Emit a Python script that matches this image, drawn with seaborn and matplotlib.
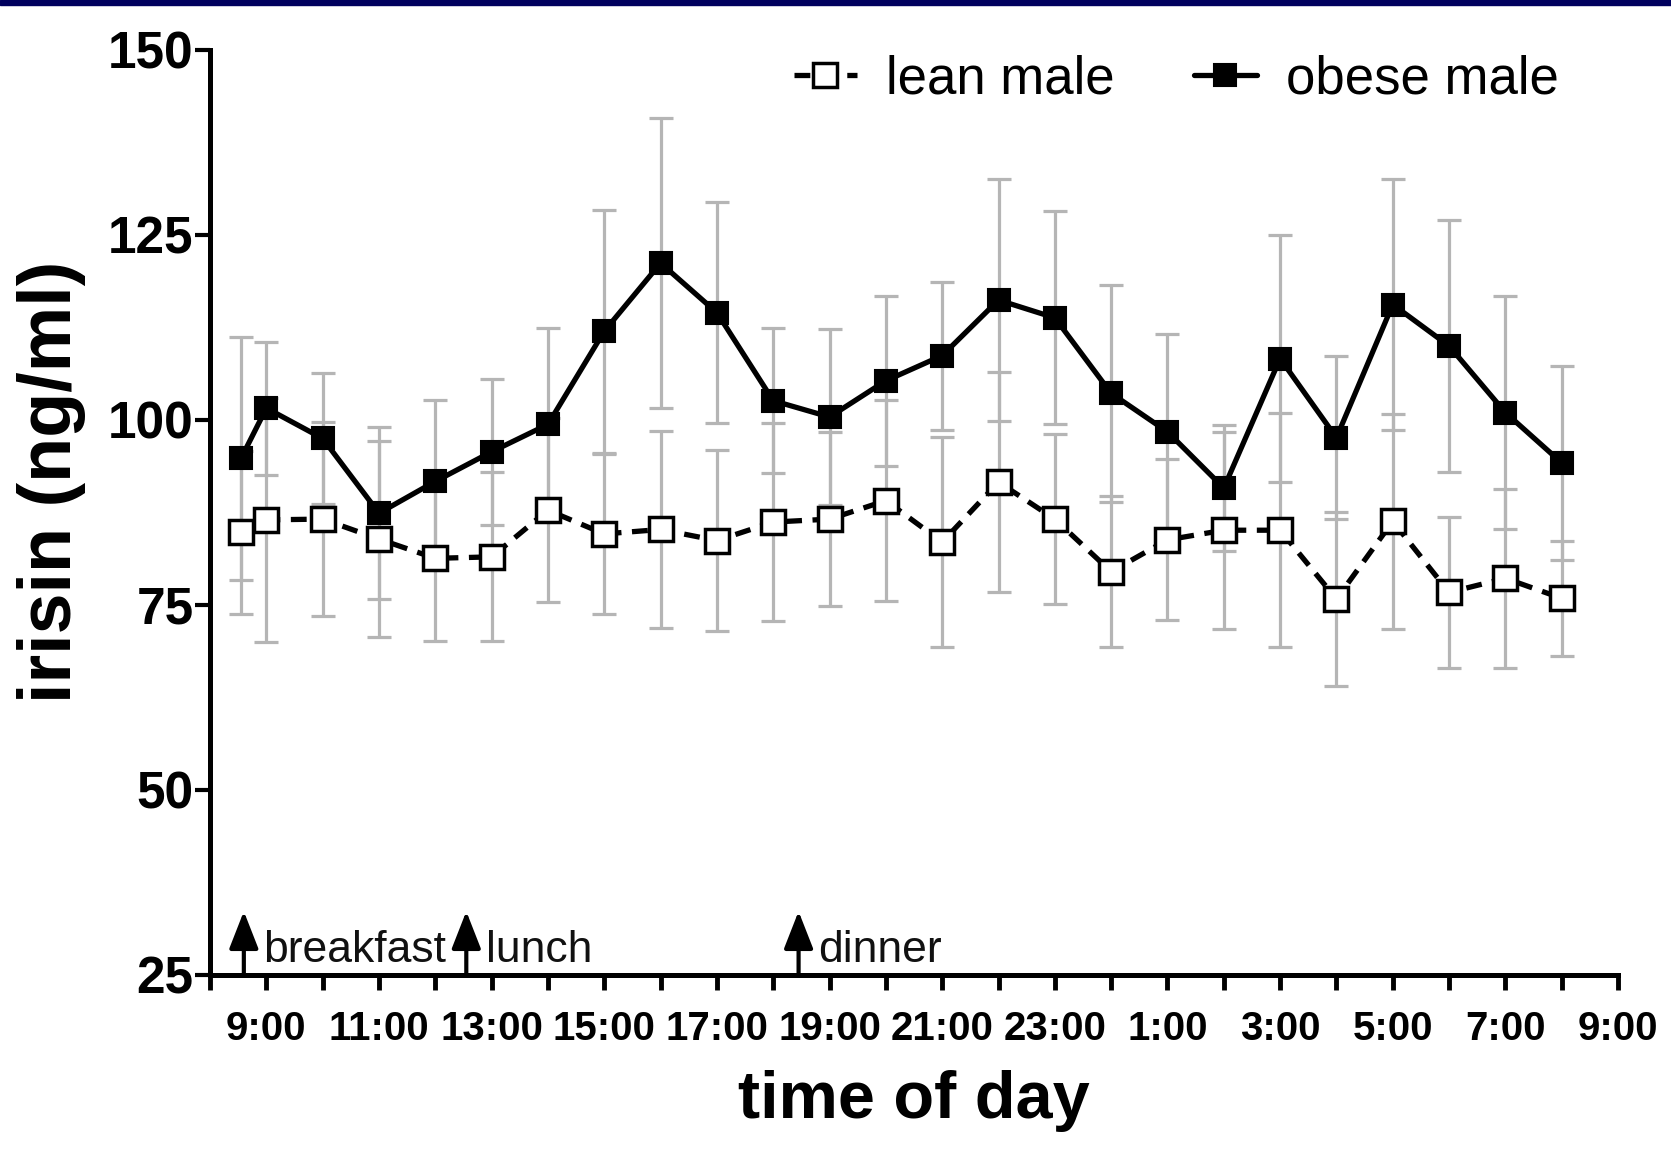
import numpy as np
import pandas as pd
import matplotlib
matplotlib.use("Agg")
import matplotlib.pyplot as plt
from matplotlib.patches import Rectangle
import seaborn as sns

# hour position on the axis (tick 1 = 9:00, tick 25 = 9:00 next day)
hours = [0.55, 1, 2, 3, 4, 5, 6, 7, 8, 9, 10, 11, 12, 13, 14, 15, 16, 17, 18, 19, 20, 21, 22, 23, 24]

lean_mean = [84.8, 86.5, 86.6, 83.9, 81.3, 81.5, 87.8, 84.6, 85.2, 83.7, 86.2, 86.6, 89.1,
             83.5, 91.6, 86.6, 79.5, 83.8, 85.1, 85.1, 75.8, 86.3, 76.7, 78.6, 75.9]
lean_sem = [11.0, 16.5, 13.1, 13.2, 11.2, 11.4, 12.4, 10.8, 13.3, 12.2, 13.4, 11.8, 13.6,
            14.2, 14.9, 11.5, 10.2, 10.9, 13.3, 15.8, 11.8, 14.5, 10.2, 12.1, 7.8]

obese_mean = [94.8, 101.6, 97.5, 87.4, 91.7, 95.7, 99.4, 112.0, 121.2, 114.5, 102.6, 100.4, 105.3,
              108.7, 116.2, 113.8, 103.6, 98.4, 90.8, 108.3, 97.6, 115.6, 110.0, 101.0, 94.2]
obese_sem = [16.4, 9.0, 8.8, 11.6, 11.0, 9.9, 13.0, 16.4, 19.6, 14.9, 9.8, 11.9, 11.5,
             10.0, 16.3, 14.4, 14.7, 13.2, 8.5, 16.7, 11.0, 17.0, 17.0, 15.7, 13.1]

tick_pos = list(range(26))
tick_labels = ["", "9:00", "", "11:00", "", "13:00", "", "15:00", "", "17:00", "", "19:00", "",
               "21:00", "", "23:00", "", "1:00", "", "3:00", "", "5:00", "", "7:00", "", "9:00"]

meal_names = ["breakfast", "lunch", "dinner"]
meal_hours = [0.6, 4.55, 10.45]

df = pd.DataFrame({
    "hour": hours * 2,
    "irisin": lean_mean + obese_mean,
    "sem": lean_sem + obese_sem,
    "group": ["lean male"] * len(hours) + ["obese male"] * len(hours),
})

sns.set_style("ticks")
plt.rcParams["font.family"] = ["Liberation Sans", "DejaVu Sans"]
plt.rcParams["text.color"] = "black"
plt.rcParams["axes.labelcolor"] = "black"
plt.rcParams["xtick.color"] = "black"
plt.rcParams["ytick.color"] = "black"

fig = plt.figure(figsize=(16.71, 11.59), dpi=100)
ax = fig.add_axes([0.1257, 0.1588, 0.8426, 0.7981])

# grey SEM bars behind the lines
for grp in ["obese male", "lean male"]:
    sub = df[df["group"] == grp]
    ax.errorbar(sub["hour"], sub["irisin"], yerr=sub["sem"], fmt="none",
                ecolor="#b5b5b5", elinewidth=2.3, capsize=8.5, capthick=2.3,
                zorder=1, label="_nolegend_")

obese = df[df["group"] == "obese male"]
lean = df[df["group"] == "lean male"]

sns.lineplot(data=obese, x="hour", y="irisin", ax=ax, color="black", errorbar=None,
             linewidth=3.8, marker="s", markersize=16, markerfacecolor="black",
             markeredgecolor="black", markeredgewidth=1.5, label="obese male", zorder=3)
sns.lineplot(data=lean, x="hour", y="irisin", ax=ax, color="black", errorbar=None,
             linewidth=3.8, linestyle=(0, (3, 2)), marker="s", markersize=17,
             markerfacecolor="white", markeredgecolor="black", markeredgewidth=2.5,
             label="lean male", zorder=4)

# meal arrows
for name, h in zip(meal_names, meal_hours):
    ax.annotate("", xy=(h, 33.6), xytext=(h, 25), zorder=5, annotation_clip=False,
                arrowprops=dict(arrowstyle="-|>,head_length=2.3,head_width=0.9",
                                mutation_scale=10, lw=3, color="black",
                                shrinkA=0, shrinkB=0))
    ax.annotate(name, xy=(h, 26.8), xytext=(14, 0), textcoords="offset points",
                va="baseline", ha="left", fontsize=32, color="#111111")

ax.set_xlim(0, 25)
ax.set_ylim(25, 150)
ax.set_yticks([25, 50, 75, 100, 125, 150])
ax.set_xticks(tick_pos)
ax.set_xticklabels(tick_labels, fontsize=29, fontweight="bold")
ax.tick_params(axis="y", labelsize=37, width=3, length=11, pad=1, direction="out")
ax.tick_params(axis="x", width=3.5, length=11, pad=14, direction="out")
for lab in ax.get_yticklabels():
    lab.set_fontweight("bold")

sns.despine(ax=ax)
for side in ["left", "bottom"]:
    ax.spines[side].set_linewidth(3.6)
    ax.spines[side].set_color("black")

ax.set_ylabel("irisin (ng/ml)", fontsize=53, fontweight="bold")
ax.yaxis.set_label_coords(-0.088, 0.533)
ax.set_xlabel("time of day", fontsize=48, fontweight="bold")
ax.xaxis.set_label_coords(0.5, -0.103)

handles, labels = ax.get_legend_handles_labels()
order = [labels.index("lean male"), labels.index("obese male")]
ax.legend([handles[i] for i in order], [labels[i] for i in order],
          loc="center right", bbox_to_anchor=(0.933, 0.931), bbox_transform=fig.transFigure,
          ncol=2, fontsize=38, frameon=False, handlelength=1.2, handletextpad=0.55,
          columnspacing=1.5, borderpad=0, borderaxespad=0)

# navy strip along the top edge
fig.add_artist(Rectangle((0, 1 - 5 / 1159), 1, 5 / 1159, transform=fig.transFigure,
                         color="#00005e", zorder=10))

fig.savefig("out.png", dpi=100)
